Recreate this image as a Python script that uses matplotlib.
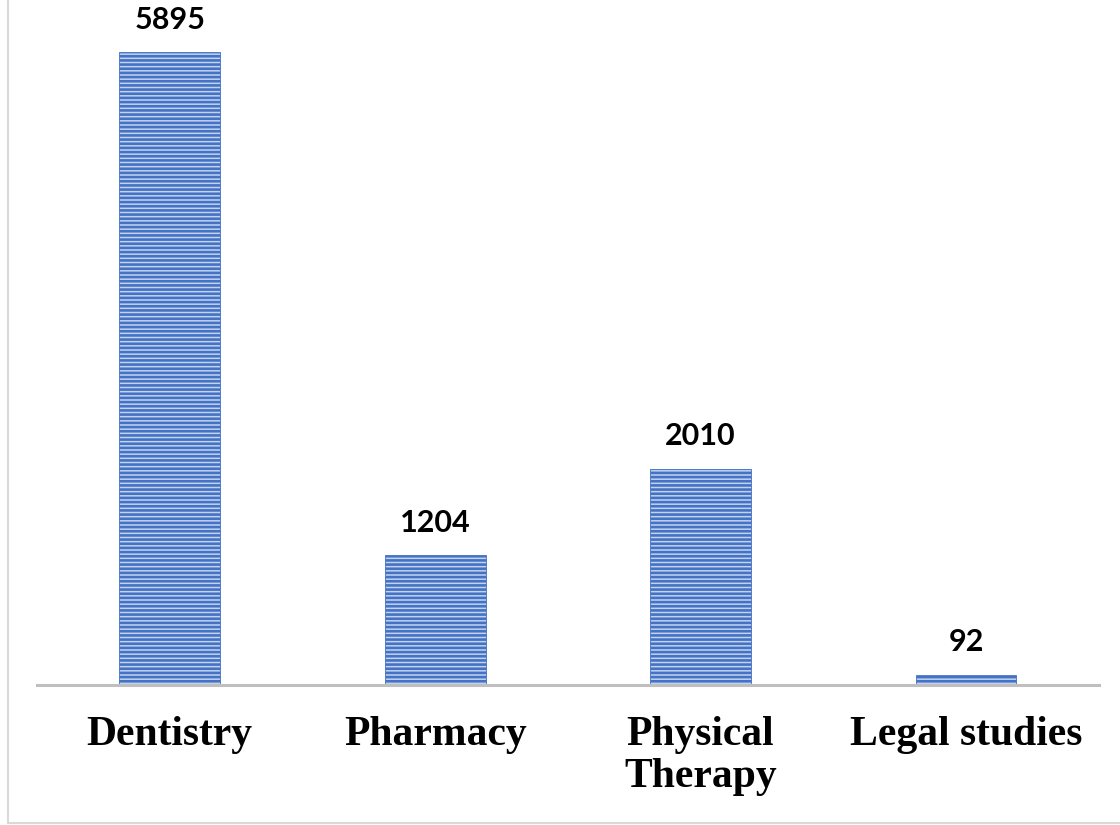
import matplotlib.pyplot as plt
from matplotlib.lines import Line2D

categories = ['Dentistry', 'Pharmacy', 'Physical\nTherapy', 'Legal studies']
values = [5895, 1204, 2010, 92]

plt.rcParams['hatch.linewidth'] = 1.9

fig = plt.figure(figsize=(11.2, 8.25), dpi=100)
ax = fig.add_axes([0.033, 0.1703, 0.948, 0.8055])

x = list(range(len(categories)))
bars = ax.bar(x, values, width=0.38, color='#c3d3ee', edgecolor='#4472c4',
              hatch='----', linewidth=0.6)

for xi, v in zip(x, values):
    ax.annotate(str(v), (xi, v), xytext=(0, 17), textcoords='offset points',
                ha='center', va='baseline', fontsize=22, fontweight='bold',
                family=['Lato', 'DejaVu Sans'], color='black')

ax.set_xlim(-0.5, 3.5)
ax.set_ylim(0, 6198)
ax.set_yticks([])
ax.set_xticks(x)
ax.set_xticklabels(categories, fontsize=30, fontweight='bold',
                   family='Liberation Serif', linespacing=1.12)
ax.tick_params(axis='x', length=0, pad=23)

for s in ['top', 'left', 'right']:
    ax.spines[s].set_visible(False)
ax.spines['bottom'].set_color('#bfbfbf')
ax.spines['bottom'].set_linewidth(2.2)

# light frame around the picture
fig.add_artist(Line2D([8 / 1120, 8 / 1120], [2 / 825, 1], color='#d9d9d9',
                      linewidth=1.5, transform=fig.transFigure))
fig.add_artist(Line2D([8 / 1120, 1], [2 / 825, 2 / 825], color='#d9d9d9',
                      linewidth=1.5, transform=fig.transFigure))

fig.savefig('out.png', dpi=100)
